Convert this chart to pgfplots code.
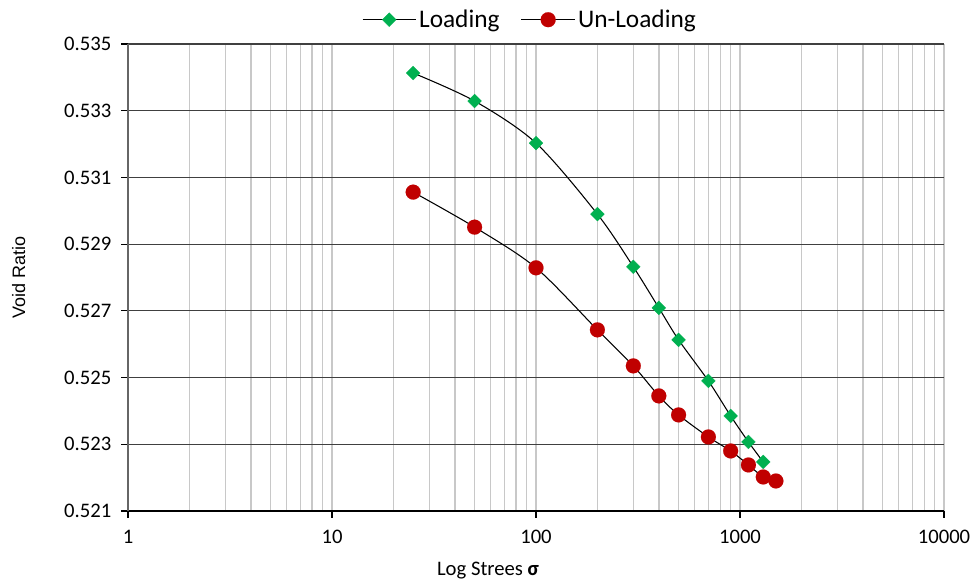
\documentclass[border=0pt]{standalone}
\usepackage{pgfplots}
\pgfplotsset{compat=1.18}
\usepackage{fontspec}
\setmainfont{Carlito}
\newfontfamily\arialfont{Liberation Sans}
\definecolor{lgreen}{HTML}{00B050}
\definecolor{dred}{HTML}{C00000}
\definecolor{hgrid}{HTML}{404040}
\definecolor{vgrid}{HTML}{C8C8C8}
\begin{document}
\begin{tikzpicture}
\useasboundingbox (0,0) rectangle (731.25pt,-438.75pt);
\begin{axis}[
  at={(96pt,-383.25pt)}, anchor=south west,
  scale only axis, width=612pt, height=350.25pt,
  xmode=log, xmin=1, xmax=10000,
  ymin=0.521, ymax=0.535,
  ytick={0.521,0.523,...,0.535},
  axis x line*=bottom, axis y line*=left,
  axis line style={line width=0.9pt},
  x axis line style={black},
  y axis line style={hgrid!80},
  tick style={line width=0.9pt, black},
  major tick length=5pt,
  minor tick length=0pt,
  xtick pos=bottom, ytick pos=left,
  tick align=outside,
  log ticks with fixed point,
  /pgf/number format/assume math mode=true,
  /pgf/number format/1000 sep={},
  yticklabel style={/pgf/number format/fixed, /pgf/number format/fixed zerofill, /pgf/number format/precision=3, xshift=-4pt},
  ticklabel style={font=\fontsize{15.5pt}{18pt}\selectfont},
  xticklabel style={yshift=-6pt},
  ymajorgrids, xmajorgrids, xminorgrids,
  y grid style={hgrid, line width=0.9pt},
  x grid style={vgrid, line width=1.1pt},
  xlabel={Log Strees \textbf{σ}},
  xlabel style={font=\fontsize{15.5pt}{18pt}\selectfont, at={(rel axis cs:0.4412,-0.128)}, anchor=center},
  ylabel={Void Ratio},
  ylabel style={font=\arialfont\fontsize{13.5pt}{16pt}\selectfont, at={(rel axis cs:-0.134,0.5)}, anchor=center},
  legend columns=2,
  legend style={draw=none, fill=none, at={(rel axis cs:0.493,1.052)}, anchor=center,
    font=\fontsize{19pt}{22pt}\selectfont,
    /tikz/every even column/.append style={column sep=14pt}},
  legend image code/.code={\draw[mark repeat=2,mark phase=2,#1] plot coordinates {(0pt,0pt) (20pt,0pt) (40pt,0pt)};},
]
\addplot[black, line width=0.8pt, smooth, tension=0.5, mark=square*, mark size=3.7pt,
  mark options={draw=lgreen, fill=lgreen, line width=0.1pt, rotate=45}] coordinates {
  (25,0.53413) (50,0.53329) (100,0.53203) (200,0.52990) (300,0.52832)
  (400,0.52709) (500,0.52613) (700,0.52490) (900,0.52385) (1100,0.52307) (1300,0.52247)
};
\addlegendentry{Loading}
\addplot[black, line width=0.8pt, smooth, tension=0.5, mark=*, mark size=5.6pt,
  mark options={draw=dred, fill=dred, line width=0.1pt}] coordinates {
  (25,0.53056) (50,0.52951) (100,0.52829) (200,0.52643) (300,0.52535)
  (400,0.52445) (500,0.52388) (700,0.52322) (900,0.52280) (1100,0.52238) (1300,0.52202) (1500,0.52190)
};
\addlegendentry{Un-Loading}
\end{axis}
\end{tikzpicture}
\end{document}
